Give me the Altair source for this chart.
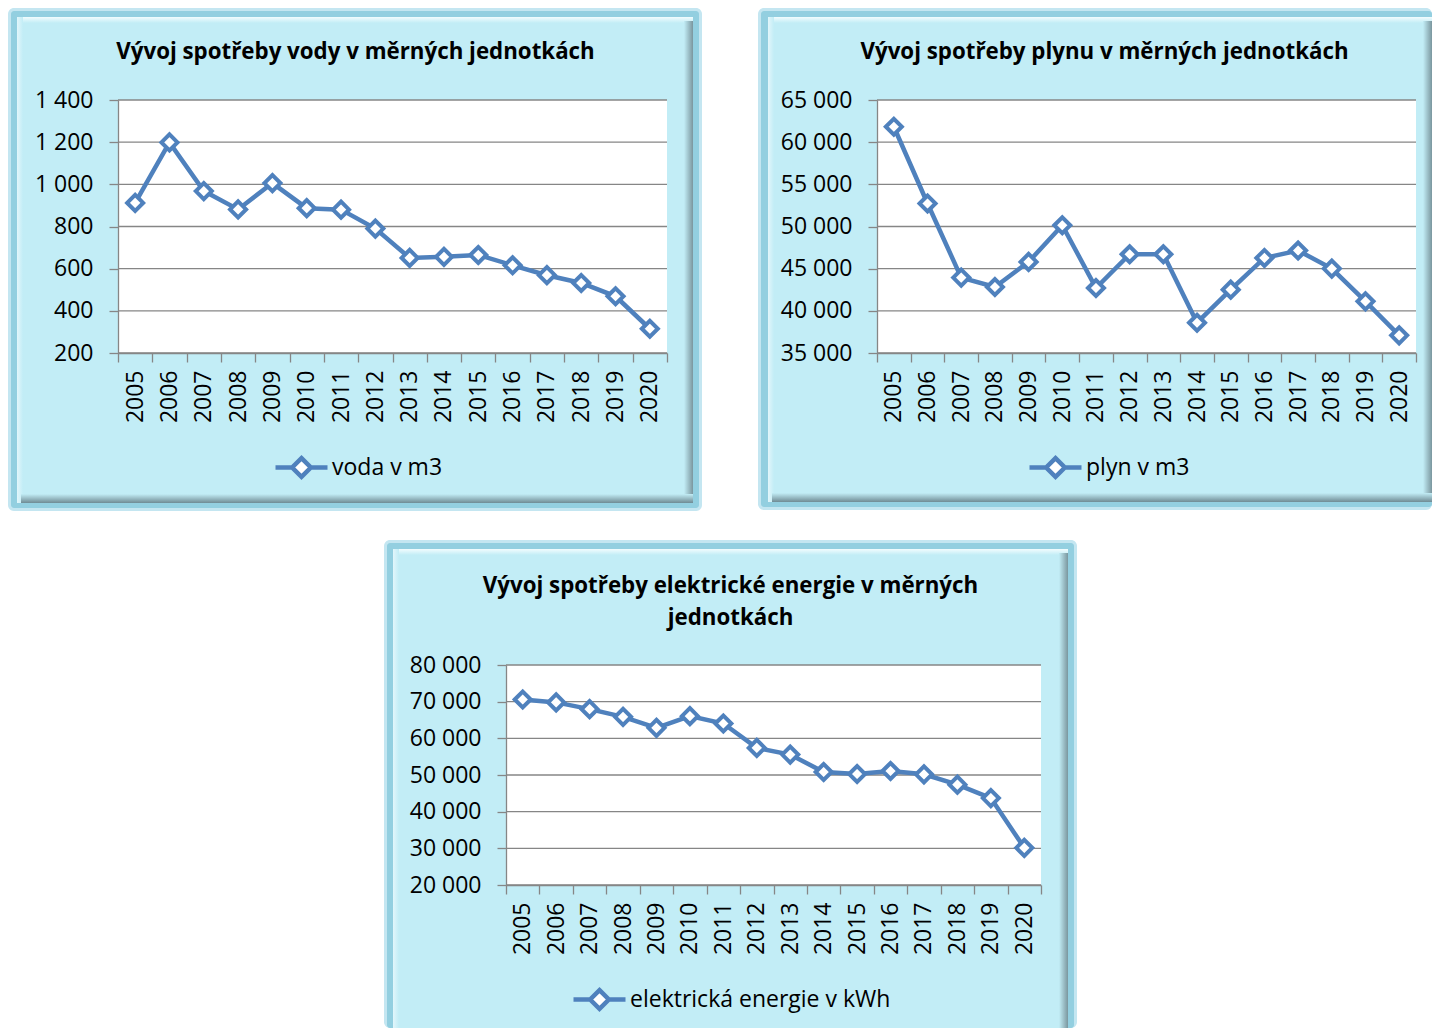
import altair as alt
import pandas as pd

years = ["2005", "2006", "2007", "2008", "2009", "2010", "2011", "2012",
         "2013", "2014", "2015", "2016", "2017", "2018", "2019", "2020"]
voda = [912, 1199, 968, 881, 1006, 887, 880, 790, 651, 656, 665, 616, 569, 532, 469, 315]
plyn = [61830, 52730, 43940, 42830, 45800, 50150, 42710, 46710, 46710, 38590,
        42510, 46270, 47150, 45010, 41130, 37090]
elektrina = [70600, 69800, 67960, 65870, 62860, 66050, 64040, 57390, 55560, 50820,
             50280, 51100, 50180, 47360, 43710, 30130]

titles = [
    "Vývoj spotřeby vody v měrných jednotkách",
    "Vývoj spotřeby plynu v měrných jednotkách",
    ["Vývoj spotřeby elektrické energie v měrných", "jednotkách"],
]
names = ["voda v m3", "plyn v m3", "elektrická energie v kWh"]
ticks_voda = [200, 400, 600, 800, 1000, 1200, 1400]
ticks_plyn = [35000, 40000, 45000, 50000, 55000, 60000, 65000]
ticks_elektrina = [20000, 30000, 40000, 50000, 60000, 70000, 80000]

BLUE = "#4F81BD"
GRID = "#868686"
FACE = "#C2EDF6"
FONT = "Open Sans"
LEGEND_PATH = "M-2,0L-0.72,0M0.72,0L2,0M0,-0.72L0.72,0L0,0.72L-0.72,0Z"
ONE = [{"k": 0}]


def grad(c1, c2, horizontal):
    return alt.LinearGradient(
        gradient="linear",
        stops=[alt.GradientStop(color=c1, offset=0), alt.GradientStop(color=c2, offset=1)],
        x1=0, y1=0, x2=1 if horizontal else 0, y2=0 if horizontal else 1,
    )


def rect(x1, x2, y1, y2, fill, opacity=1, radius=0):
    return alt.Chart(alt.Data(values=ONE)).mark_rect(
        fill=fill, opacity=opacity, cornerRadius=radius, strokeWidth=0
    ).encode(x=alt.value(x1), x2=alt.value(x2), y=alt.value(y1), y2=alt.value(y2))


def panel(title, name, values, ticks, W, H, L, T, R, B, sh,
          legend_x, legend_y, title_dx, title_offset, bottom_bevel=True):
    shL, shT, shR, shB = sh
    fx1, fx2, fy1, fy2 = -L, W + R, -T, H + B
    layers = []
    # outer glow / shadow
    layers.append(rect(fx1 - shL, fx2 + shR, fy1 - shT, fy2 + shB, "#c4e6f1", radius=6))
    layers.append(rect(fx1 - max(shL - 3, 0), fx2 + max(shR - 3, 0),
                       fy1 - max(shT - 3, 0), fy2 + max(shB - 3, 0), "#93cfe0", radius=3))
    # face
    layers.append(rect(fx1, fx2, fy1, fy2, FACE))
    # bevel
    layers.append(rect(fx1, fx2, fy1, fy1 + 6, grad("#f2fcfe", FACE, False)))
    layers.append(rect(fx1, fx1 + 6, fy1, fy2, grad("#e2f6fb", FACE, True)))
    layers.append(rect(fx2 - 9, fx2, fy1 + 4, fy2, grad(FACE, "#7a969e", True)))
    if bottom_bevel:
        layers.append(rect(fx1 + 4, fx2, fy2 - 9, fy2, grad(FACE, "#6f8b94", False)))
    # plot area
    layers.append(rect(0, W, 0, H, "white"))

    dom = [ticks[0], ticks[-1]]
    y_enc = alt.Y(
        "hodnota:Q",
        scale=alt.Scale(domain=dom, nice=False, zero=False),
        axis=alt.Axis(
            title=None, values=ticks, grid=False, zindex=1,
            labelExpr="replace(format(datum.value, ','), ',', ' ')",
            tickSize=9, tickColor=GRID, tickWidth=1.3,
            domainColor=GRID, domainWidth=1.3,
            labelFont=FONT, labelFontSize=23, labelColor="black", labelPadding=16,
        ),
    )
    x_enc = alt.X(
        "rok:O", sort=years,
        scale=alt.Scale(type="band", paddingInner=0, paddingOuter=0),
        axis=alt.Axis(
            title=None, labelAngle=-90, tickBand="extent", grid=False, zindex=1,
            tickSize=9, tickColor=GRID, tickWidth=1.3,
            domainColor=GRID, domainWidth=1.3, labelOverlap=False,
            labelFont=FONT, labelFontSize=23, labelColor="black", labelPadding=8,
        ),
    )
    grid_df = pd.DataFrame({"hodnota": ticks})
    layers.append(alt.Chart(grid_df).mark_rule(color=GRID, strokeWidth=1.3).encode(y=y_enc))

    df = pd.DataFrame({"rok": years, "hodnota": values, "serie": name})
    line = alt.Chart(df).mark_line(strokeWidth=4.5).encode(
        x=x_enc, y=y_enc,
        color=alt.Color(
            "serie:N",
            scale=alt.Scale(domain=[name], range=[BLUE]),
            legend=alt.Legend(
                title=None, orient="none", legendX=legend_x, legendY=legend_y,
                symbolType=LEGEND_PATH, symbolSize=676, symbolStrokeWidth=4.5,
                symbolFillColor="white", labelFont=FONT, labelFontSize=23,
                labelColor="black", labelOffset=15, labelLimit=500, padding=0,
            ),
        ),
    )
    pts = alt.Chart(df).mark_point(
        shape="diamond", size=256, filled=True, fill="white", stroke=BLUE,
        strokeWidth=4, opacity=1,
    ).encode(x=x_enc, y=y_enc)
    layers += [line, pts]

    return alt.layer(*layers).properties(
        width=W, height=H,
        title=alt.TitleParams(
            text=title, anchor="middle", frame="group", dx=title_dx, offset=title_offset,
            font=FONT, fontSize=22.3, fontWeight="bold", color="black", lineHeight=32,
        ),
    )


p1 = panel(titles[0], names[0], voda, ticks_voda, 549, 253, 101, 83, 26, 150,
           (9, 9, 9, 8), 168, 352, -37, -55)
p2 = panel(titles[1], names[1], plyn, ticks_plyn, 539, 253, 109, 83, 16, 149,
           (10, 9, 0, 8), 163, 352, -42, -55)
p3 = panel(titles[2], names[2], elektrina, ticks_elektrina, 535, 220, 113, 116, 27, 143,
           (9, 9, 9, 0), 78, 319, -43, -89, bottom_bevel=False)

# blank white spacer that pushes the third panel to the middle of the page
spacer = rect(0, 200, 0, 10, "white").properties(width=200, height=10)

top = alt.hconcat(p1, p2, spacing=56).resolve_scale(color="independent")
bottom = alt.hconcat(spacer, p3, spacing=66).resolve_scale(color="independent")
chart = (
    alt.vconcat(top, bottom, spacing=29)
    .resolve_scale(color="independent")
    .properties(padding={"left": 0, "top": 0, "right": 0, "bottom": 0}, background="white")
    .configure_view(strokeWidth=0)
)

chart.save("out.html", embed_options={"renderer": "svg", "actions": False})
